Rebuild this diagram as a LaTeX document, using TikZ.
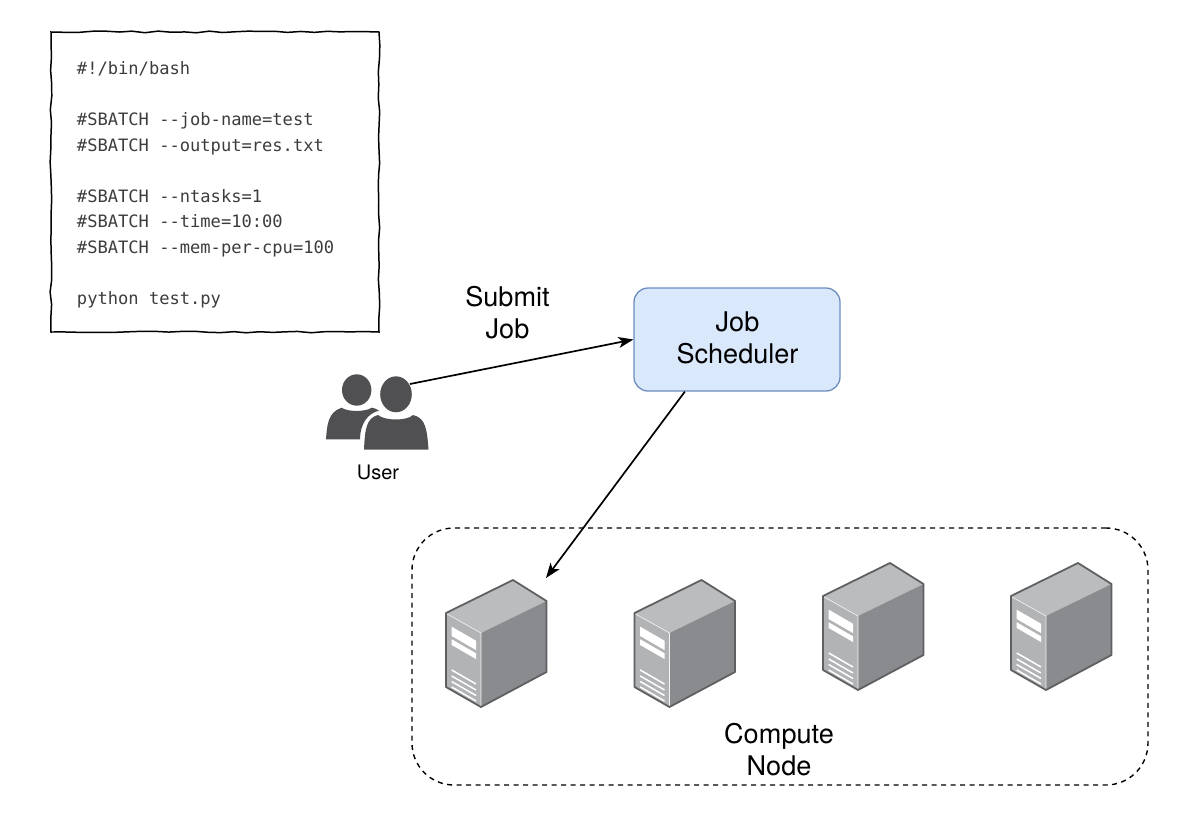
\documentclass[tikz,border=0pt]{standalone}
\usepackage{fontspec}
\setmainfont{TeX Gyre Heros}
\newfontfamily\codefont{DejaVu Sans Mono}
\usetikzlibrary{arrows.meta,decorations.pathmorphing}
\definecolor{schedfill}{RGB}{218,232,252}
\definecolor{schedline}{RGB}{108,142,191}
\definecolor{usergray}{RGB}{80,80,82}
\definecolor{codegray}{RGB}{60,60,60}
\definecolor{srvline}{RGB}{95,96,98}
\definecolor{srvtop}{RGB}{187,188,190}
\definecolor{srvfront}{RGB}{178,179,181}
\definecolor{srvside}{RGB}{138,139,142}
\tikzset{
  script/.style  = {draw=black, line width=1.5pt, decorate,
                    decoration={random steps, segment length=13bp, amplitude=0.9bp},
                    minimum width=328bp, minimum height=300bp},
  codetext/.style = {text width=276bp, inner sep=0pt, align=flush left, text=codegray,
                    font=\codefont\fontsize{17.15}{25.6}\selectfont},
  sched/.style   = {rounded corners=14bp, draw=schedline, fill=schedfill, line width=1.3pt,
                    minimum width=206bp, minimum height=103bp},
  label/.style   = {align=center, inner sep=0pt, font=\fontsize{27.2}{32}\selectfont},
  cluster/.style = {draw=black, line width=1.4pt, rounded corners=42bp,
                    dash pattern=on 5bp off 4.5bp,
                    minimum width=736bp, minimum height=257bp},
  flow/.style    = {draw=black, line width=1.7pt, -{Stealth[length=15bp, width=11bp, inset=4bp]}},
  % One tower: its origin is the top left corner of its bounding box.
  servertower/.pic = {
    \fill[srvfront] (0,33) -- (35,53) -- (35,127) -- (0,107) -- cycle;
    \fill[srvtop]   (0,33) -- (67,0) -- (100.5,21) -- (35,53) -- cycle;
    \fill[srvside]  (35,53) -- (100.5,21) -- (100.5,92) -- (35,127) -- cycle;
    \draw[white!85!srvfront, line width=0.6pt] (1,34) -- (35,53) -- (35,126);
    \fill[white] (5.7,46.7) -- (30,60.7) -- (30,70) -- (5.7,56) -- cycle;
    \fill[white] (5.7,59.3) -- (30,73.3) -- (30,79) -- (5.7,65) -- cycle;
    \foreach \v in {90,96,101.5,107}
      \draw[white, line width=1.5pt] (5.7,\v) -- (30,\v+14);
    \draw[srvline, line width=1.8pt, line join=round]
      (0,33) -- (67,0) -- (100.5,21) -- (100.5,92) -- (35,127) -- (0,107) -- cycle;
  },
}
\begin{document}
\begin{tikzpicture}[x=1bp, y=-1bp]
  \useasboundingbox (0,0) rectangle (1200,824);
  \pgfmathsetseed{11}

  \node[script] (code) at (215,182) {};
  \node[codetext] (codelines) at (215,185) {%
    \#!/bin/bash\\
    ~\\
    \#SBATCH -{}-job-name=test\\
    \#SBATCH -{}-output=res.txt\\
    ~\\
    \#SBATCH -{}-ntasks=1\\
    \#SBATCH -{}-time=10:00\\
    \#SBATCH -{}-mem-per-cpu=100\\
    ~\\
    python test.py};

  % User icon: back figure first, front figure over it
  \fill[usergray] (356.7,390) ellipse [x radius=14.7, y radius=15.7];
  \fill[usergray] (326,439.3) .. controls (327,425) and (328,412) .. (341.7,407.7)
    .. controls (347,412) and (366,412) .. (371.7,407.7)
    .. controls (374,408) and (377,409) .. (379,410.7)
    .. controls (368,413) and (360,424) .. (360,439.3) -- cycle;
  \fill[usergray] (396,394.3) ellipse [x radius=15.8, y radius=18];
  \fill[usergray] (364,449.5) .. controls (365,430) and (366,418) .. (378,415)
    .. controls (385,421) and (407,421) .. (413,415)
    .. controls (426,418) and (427,430) .. (428.5,449.5) -- cycle;
  \node[inner sep=0pt, font=\fontsize{20}{24}\selectfont] (userlabel) at (378,472) {User};
  \coordinate (useredge) at (410,384);

  \node[sched] (sched) at (737,339.5) {};
  \node[label] (schedlabel) at (737.5,338) {Job\\Scheduler};
  \node[label] (submit) at (507.5,313) {Submit\\Job};

  \node[cluster] (nodes) at (780,656.5) {};
  \pic at (446,580) {servertower};
  \pic at (634.5,580) {servertower};
  \pic at (823,563) {servertower};
  \pic at (1011,563) {servertower};
  \coordinate (srvtip) at (546,578);
  \node[label] (clusterlabel) at (779,750) {Compute\\Node};

  \draw[flow] (useredge) -- (sched.west);
  \draw[flow] (sched.225) -- (srvtip);
\end{tikzpicture}
\end{document}
